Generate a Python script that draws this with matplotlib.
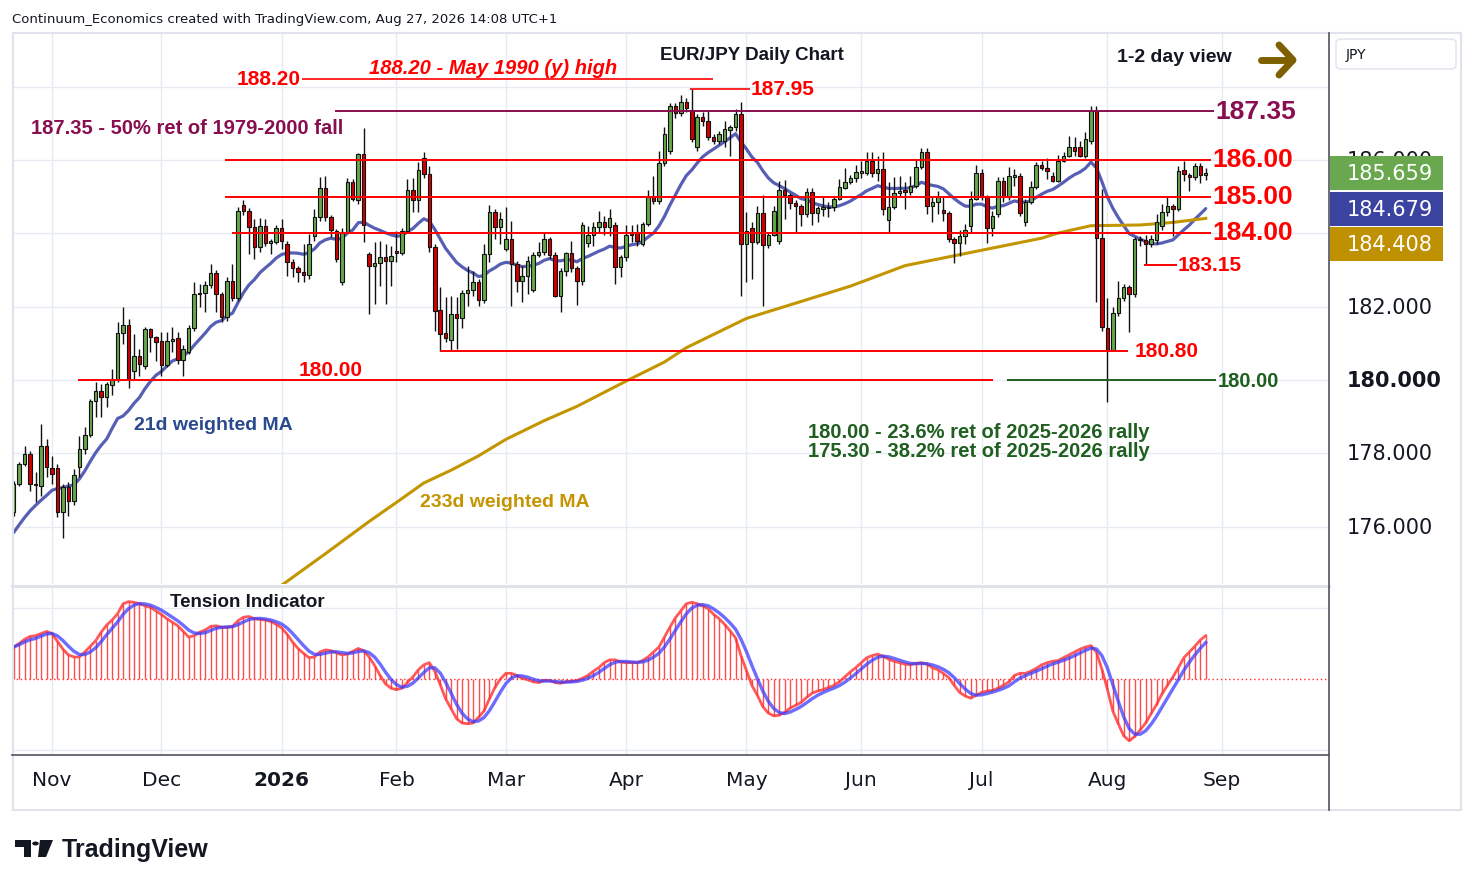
import matplotlib
matplotlib.use("Agg")
import matplotlib.pyplot as plt
from matplotlib.patches import Rectangle, FancyBboxPatch, Polygon, Circle
from matplotlib.lines import Line2D
import numpy as np
import pandas as pd

W, H = 1474, 887

# ---------------- data ----------------
first_day = "2025-10-23"
closed_days = ["2025-12-25", "2026-01-01"]

opens = [
    176.39, 177.16, 177.71, 177.98, 177.16, 177.12, 178.19,
    177.59, 177.60, 176.40, 177.08, 176.71, 177.62, 178.12, 178.50, 179.44, 179.71,
    179.53, 179.87, 180.03, 181.28, 181.50, 180.24, 180.66, 180.39, 181.39, 181.16,
    181.07, 180.42, 181.07, 181.14, 180.55, 180.76, 181.41, 182.35, 182.37, 182.59,
    182.92, 182.35, 181.72, 182.71, 182.23, 184.78, 184.60, 184.17, 183.62, 184.20,
    183.75, 183.77, 184.15, 183.71, 183.21, 183.05, 182.96, 182.87, 183.92, 184.44,
    185.23, 184.44, 184.07, 182.68, 184.05, 185.39, 184.91, 186.17, 183.44, 183.10,
    183.19, 183.35, 183.24, 183.53, 183.46, 184.07, 185.18, 184.91, 186.05, 185.62,
    183.62, 181.91, 181.27, 181.09, 181.80, 181.68, 182.37, 182.46, 182.67, 182.18,
    183.44, 184.59, 184.17, 183.57, 183.85, 183.17, 182.69, 182.85, 182.46, 183.41,
    183.49, 183.85, 183.41, 182.30, 182.97, 183.47, 183.05, 182.71, 183.74, 183.96,
    184.17, 184.30, 184.17, 184.23, 183.07, 183.35, 184.05, 184.05, 183.71, 184.26,
    185.00, 184.88, 185.92, 186.26, 187.47, 187.29, 187.58, 187.37, 186.35, 187.17,
    187.08, 186.62, 186.53, 186.53, 186.83, 186.89, 187.26, 183.71, 184.14, 183.77,
    184.57, 183.68, 183.96, 183.80, 185.18, 185.05, 184.83, 184.76, 184.53, 185.12,
    184.56, 184.67, 184.70, 184.71, 184.94, 185.24, 185.41, 185.50, 185.66, 185.66,
    185.98, 185.65, 185.77, 184.37, 184.71, 185.09, 185.18, 185.12, 185.30, 185.80,
    186.21, 184.74, 184.87, 184.65, 184.57, 183.85, 183.74, 183.94, 184.19, 184.95,
    185.64, 184.99, 184.14, 184.52, 185.42, 184.99, 185.55, 185.57, 184.30, 184.85,
    185.26, 185.87, 185.78, 185.56, 185.44, 185.98, 186.12, 186.35, 186.35, 186.12,
    186.53, 187.35, 183.87, 181.41, 180.83, 181.82, 182.23, 182.53, 182.35, 183.83,
    183.83, 183.71, 183.83, 184.19, 184.59, 184.74, 184.67, 185.73, 185.59, 185.53,
    185.83, 185.59,
]
highs = [
    177.25, 177.75, 178.19, 178.05, 177.48, 178.80, 178.39,
    177.93, 177.70, 177.15, 177.21, 177.57, 178.48, 178.71, 179.48, 179.94, 179.89,
    179.95, 180.30, 181.57, 181.99, 181.66, 181.25, 180.85, 181.45, 181.42, 181.20,
    181.30, 181.30, 181.44, 181.30, 180.95, 181.50, 182.67, 182.62, 182.71, 183.17,
    183.00, 182.40, 182.80, 183.17, 184.71, 184.91, 184.70, 184.39, 184.42, 184.39,
    183.85, 184.23, 184.39, 183.80, 183.30, 183.12, 183.71, 183.98, 184.67, 185.53,
    185.56, 184.50, 184.12, 184.15, 185.50, 185.48, 186.20, 186.87, 183.50, 183.76,
    183.80, 183.71, 183.66, 184.06, 184.15, 185.48, 185.50, 185.94, 186.21, 185.85,
    183.70, 182.53, 182.26, 182.28, 182.26, 182.45, 183.12, 182.98, 182.75, 183.71,
    184.77, 184.67, 184.58, 184.71, 184.35, 183.25, 183.12, 183.39, 183.48, 183.76,
    184.05, 183.89, 183.50, 183.05, 183.50, 183.80, 183.10, 184.30, 184.21, 184.30,
    184.62, 184.48, 184.67, 184.30, 183.40, 184.23, 184.23, 184.26, 184.30, 185.19,
    185.56, 186.26, 186.89, 187.56, 187.56, 187.78, 187.70, 187.95, 187.25, 187.32,
    187.35, 186.70, 186.80, 187.08, 186.95, 187.39, 187.58, 184.58, 184.30, 184.76,
    185.05, 184.05, 184.74, 185.44, 185.47, 185.10, 184.90, 184.80, 185.23, 185.23,
    184.75, 185.00, 184.85, 185.00, 185.48, 185.78, 185.60, 185.87, 185.98, 186.23,
    186.23, 186.12, 186.23, 185.39, 185.53, 185.57, 185.39, 185.57, 186.03, 186.32,
    186.32, 185.03, 185.17, 184.98, 184.60, 183.90, 184.10, 184.26, 185.17, 185.87,
    185.76, 185.05, 184.62, 185.53, 185.53, 185.80, 185.75, 185.65, 184.95, 185.44,
    185.94, 185.98, 186.06, 185.67, 186.14, 186.21, 186.67, 186.62, 186.53, 186.76,
    187.48, 187.47, 185.21, 182.23, 181.98, 182.71, 182.62, 182.60, 183.90, 183.94,
    183.95, 183.96, 184.53, 184.81, 185.01, 184.80, 185.83, 185.98, 185.65, 185.92,
    185.92, 185.78,
]
lows = [
    176.30, 177.12, 177.65, 176.98, 176.66, 176.84, 177.35,
    177.16, 176.25, 175.69, 176.30, 176.60, 177.35, 177.98, 178.45, 178.98, 178.98,
    179.25, 179.59, 179.95, 180.98, 179.77, 180.03, 180.12, 180.30, 180.76, 180.53,
    180.12, 180.35, 180.76, 180.44, 180.12, 180.70, 181.35, 181.98, 181.85, 182.50,
    181.85, 181.57, 181.60, 182.15, 182.15, 184.50, 183.44, 183.30, 183.48, 183.65,
    183.44, 183.70, 183.57, 182.83, 182.80, 182.67, 182.67, 182.76, 183.80, 184.35,
    184.35, 183.89, 183.21, 182.60, 184.00, 184.88, 184.80, 183.76, 181.80, 182.07,
    182.57, 182.07, 182.57, 183.21, 183.40, 184.00, 184.58, 184.58, 185.50, 183.48,
    181.35, 180.80, 181.03, 180.80, 180.85, 181.41, 182.03, 182.30, 182.01, 182.10,
    183.21, 183.85, 183.71, 183.53, 182.03, 182.39, 182.12, 182.35, 182.39, 183.35,
    183.40, 183.30, 182.26, 181.86, 182.85, 182.95, 182.05, 182.59, 183.62, 183.66,
    184.03, 183.96, 183.94, 182.62, 182.82, 183.26, 183.76, 183.66, 183.66, 184.20,
    184.80, 184.80, 185.85, 186.17, 187.14, 187.20, 187.30, 186.50, 186.26, 186.94,
    186.55, 186.44, 186.44, 186.35, 186.12, 186.80, 182.28, 182.67, 182.76, 183.70,
    182.03, 183.60, 183.94, 183.70, 184.39, 184.67, 184.05, 184.21, 184.45, 184.23,
    184.30, 184.48, 184.44, 184.60, 184.90, 185.20, 185.35, 185.39, 185.50, 185.60,
    185.53, 185.44, 184.50, 184.05, 184.67, 184.98, 184.67, 185.05, 185.25, 185.75,
    184.53, 184.30, 184.53, 184.35, 183.76, 183.19, 183.39, 183.71, 184.03, 184.90,
    184.90, 183.74, 183.94, 184.45, 184.85, 184.90, 185.30, 184.48, 184.20, 184.81,
    185.21, 185.74, 185.48, 185.39, 185.40, 185.94, 186.08, 186.12, 186.08, 186.05,
    186.45, 182.12, 181.35, 179.39, 180.78, 181.75, 182.15, 181.30, 182.26, 183.66,
    183.15, 183.62, 183.71, 184.10, 184.48, 183.94, 184.60, 185.44, 185.17, 185.45,
    185.38, 185.47,
]
closes = [
    177.16, 177.71, 177.98, 177.16, 177.13, 178.19, 177.62,
    177.44, 176.40, 177.08, 176.71, 177.41, 178.12, 178.50, 179.44, 179.71, 179.53,
    179.89, 180.03, 181.28, 181.50, 180.03, 180.66, 180.43, 181.39, 181.16, 181.03,
    180.42, 181.07, 181.12, 180.55, 180.85, 181.41, 182.35, 182.38, 182.59, 182.92,
    182.35, 181.72, 182.71, 182.23, 184.62, 184.60, 184.17, 183.62, 184.20, 183.75,
    183.79, 184.15, 183.80, 183.21, 183.05, 182.96, 182.87, 183.71, 184.44, 185.23,
    184.44, 184.09, 183.30, 184.05, 185.39, 184.95, 186.17, 184.23, 183.10, 183.19,
    183.35, 183.24, 183.37, 183.46, 184.07, 185.18, 184.91, 185.73, 185.62, 183.62,
    181.89, 181.26, 181.14, 181.80, 181.68, 182.37, 182.46, 182.67, 182.18, 183.44,
    184.59, 184.17, 184.39, 183.85, 183.17, 182.69, 182.85, 183.24, 183.41, 183.49,
    183.85, 183.41, 182.30, 182.97, 183.47, 183.05, 182.71, 184.23, 183.96, 184.17,
    184.30, 184.17, 184.41, 183.07, 183.35, 183.96, 183.96, 183.80, 184.26, 185.00,
    184.88, 185.92, 186.71, 187.47, 187.29, 187.58, 187.41, 186.58, 187.17, 187.08,
    186.62, 186.53, 186.71, 186.85, 186.89, 187.26, 183.71, 184.07, 183.77, 184.57,
    183.68, 183.96, 184.62, 185.18, 185.05, 184.83, 184.76, 184.54, 185.12, 184.56,
    184.69, 184.72, 184.73, 184.95, 185.26, 185.41, 185.50, 185.68, 185.68, 185.98,
    185.64, 185.77, 184.67, 184.71, 185.09, 185.16, 185.12, 185.30, 185.80, 186.21,
    184.74, 184.87, 184.99, 184.57, 183.85, 183.74, 183.94, 184.09, 184.95, 185.64,
    184.99, 184.14, 184.48, 185.42, 184.99, 185.57, 185.60, 184.56, 184.85, 185.26,
    185.87, 185.78, 185.71, 185.44, 185.98, 186.12, 186.35, 186.26, 186.12, 186.58,
    187.35, 183.87, 181.44, 180.83, 181.82, 182.23, 182.53, 182.35, 183.85, 183.85,
    183.71, 183.85, 184.32, 184.59, 184.74, 184.67, 185.71, 185.62, 185.53, 185.83,
    185.60, 185.66,
]

# 21d weighted MA over the first bars (its earlier inputs are off the chart)
wma21_early = [
    175.84, 176.05, 176.25, 176.43, 176.58, 176.72, 176.85,
    176.99, 177.04, 177.07, 177.10, 177.14, 177.30, 177.52, 177.78, 178.02,
    178.22, 178.39, 178.68, 178.95,
]

# 233d weighted MA, read at these bars
wma233_bar = [49, 57, 65, 70, 75, 80, 85, 90, 97, 103, 112, 119, 123, 134,
              153, 163, 175, 188, 191, 197, 206, 212, 218]
wma233_val = [174.40, 175.26, 176.14, 176.66, 177.19, 177.54, 177.93, 178.38,
              178.89, 179.28, 179.97, 180.49, 180.88, 181.68, 182.56, 183.12,
              183.48, 183.87, 184.01, 184.21, 184.23, 184.30, 184.41]

# tension indicator (red oscillator), one value per bar
tension = [
    0.45, 0.50, 0.56, 0.60, 0.61, 0.64, 0.67,
    0.64, 0.53, 0.42, 0.34, 0.31, 0.31, 0.38, 0.46, 0.54, 0.66,
    0.76, 0.83, 0.92, 1.06, 1.09, 1.08, 1.06, 1.03, 1.01, 0.96,
    0.91, 0.85, 0.80, 0.75, 0.67, 0.59, 0.61, 0.66, 0.69, 0.74,
    0.75, 0.73, 0.73, 0.74, 0.82, 0.87, 0.88, 0.85, 0.84, 0.83,
    0.81, 0.77, 0.72, 0.63, 0.52, 0.43, 0.36, 0.30, 0.31, 0.38,
    0.41, 0.40, 0.37, 0.34, 0.35, 0.39, 0.43, 0.40, 0.31, 0.19,
    0.05, -0.07, -0.13, -0.15, -0.13, -0.05, 0.03, 0.13, 0.20, 0.23,
    0.11, -0.08, -0.28, -0.42, -0.56, -0.62, -0.63, -0.62, -0.54, -0.45,
    -0.28, -0.12, 0.00, 0.08, 0.08, 0.05, 0.01, -0.01, -0.04, -0.05,
    -0.02, -0.02, -0.05, -0.06, -0.04, -0.03, -0.02, 0.01, 0.05, 0.11,
    0.16, 0.23, 0.27, 0.27, 0.24, 0.23, 0.23, 0.23, 0.26, 0.31,
    0.38, 0.45, 0.59, 0.73, 0.86, 0.96, 1.06, 1.08, 1.06, 1.03,
    0.99, 0.91, 0.85, 0.77, 0.68, 0.58, 0.33, 0.12, -0.09, -0.23,
    -0.39, -0.48, -0.52, -0.51, -0.47, -0.41, -0.37, -0.33, -0.26, -0.20,
    -0.17, -0.15, -0.12, -0.09, -0.04, 0.03, 0.10, 0.16, 0.23, 0.30,
    0.33, 0.35, 0.32, 0.28, 0.25, 0.23, 0.21, 0.20, 0.22, 0.23,
    0.21, 0.16, 0.13, 0.08, 0.02, -0.09, -0.19, -0.24, -0.27, -0.23,
    -0.19, -0.17, -0.16, -0.13, -0.09, -0.04, 0.05, 0.08, 0.08, 0.11,
    0.15, 0.20, 0.23, 0.25, 0.26, 0.30, 0.34, 0.38, 0.42, 0.45,
    0.47, 0.38, 0.14, -0.14, -0.45, -0.63, -0.80, -0.87, -0.81, -0.72,
    -0.62, -0.49, -0.36, -0.21, -0.09, 0.03, 0.16, 0.30, 0.38, 0.46,
    0.55, 0.61,
]

# horizontal levels
lvl_major = [186.00, 185.00, 184.00]
lvl_retr = 187.35
lvl_high_1990 = 188.20
lvl_high_apr = 187.95
lvl_low_feb = 180.80
lvl_low_aug = 183.15
lvl_round = 180.00

last_close = 185.659
last_wma21 = 184.679
last_wma233 = 184.408

# ---------------- layout helpers ----------------
fig = plt.figure(figsize=(W / 100, H / 100), dpi=100)
fig.patch.set_facecolor("white")


def fx(px):
    return px / W


def fy(py):
    return 1 - py / H


def px2x(px):            # pixel column -> bar position
    return (px - 52) / 5.468 + 7


def x2px(xv):
    return 52 + (xv - 7) * 5.468


def p2py(p):             # price -> pixel row
    return 381 - (p - 180) * 36.65


def ftext(px, py, s, **kw):
    kw.setdefault("va", "center")
    return fig.text(fx(px), fy(py), s, **kw)


LEFT, RIGHT, TOP, MID, TTOP, BOT = 12, 1329, 33, 585, 588, 756
ax = fig.add_axes([fx(LEFT), fy(MID), (RIGHT - LEFT) / W, (MID - TOP) / H])
axt = fig.add_axes([fx(LEFT), fy(BOT), (RIGHT - LEFT) / W, (BOT - TTOP) / H])
for a in (ax, axt):
    a.set_xlim(px2x(LEFT), px2x(RIGHT))
    a.axis("off")
ax.set_ylim(180 - (MID - 381) / 36.65, 180 + (381 - TOP) / 36.65)
axt.set_ylim(-(BOT - 680) / 71, (680 - TTOP) / 71)

grid_c = "#e6ebf1"
ann = "Liberation Sans"
axf = "DejaVu Sans"
RED = "#ff0000"
MAG = "#880e4f"
DGREEN = "#1f5f1f"
GOLD = "#c39500"
BLUE_MA = "#3a43a8"

# ---------------- dates / month ticks ----------------
n = len(closes)
x = np.arange(n)
days = pd.bdate_range(first_day, "2026-09-30")
days = days[~days.isin(pd.to_datetime(closed_days))]
month_pos, month_lab = [], []
prev = (days[0].year, days[0].month)
for i, d in enumerate(days):
    if (d.year, d.month) != prev:
        month_pos.append(i)
        month_lab.append(str(d.year) if d.month == 1 else d.strftime("%b"))
        prev = (d.year, d.month)

for mp in month_pos:
    ax.axvline(mp, color=grid_c, lw=1, zorder=0)
    axt.axvline(mp, color=grid_c, lw=1, zorder=0)
for v in range(176, 190, 2):
    ax.axhline(v, color=grid_c, lw=1, zorder=0)
for v in (-1, 1):
    axt.axhline(v, color=grid_c, lw=1, zorder=0)

# ---------------- moving averages ----------------
c = np.array(closes)
wts = np.arange(1, 22)
wma21 = list(wma21_early)
for i in range(len(wma21_early), n):
    wma21.append(np.dot(c[i - 20:i + 1], wts) / wts.sum())
ax.plot(x, wma21, color=BLUE_MA, lw=2.3, alpha=0.85, zorder=2, solid_capstyle="round")
ax.plot(wma233_bar, wma233_val, color=GOLD, lw=2.2, zorder=2)

# ---------------- candles ----------------
o, h, l = np.array(opens), np.array(highs), np.array(lows)
up = c >= o
ax.vlines(x, l, h, color="#111111", lw=1.0, zorder=3)
ax.bar(x, np.maximum(np.abs(c - o), 0.03), bottom=np.minimum(o, c), width=0.64,
       color=np.where(up, "#66a84b", "#d10000"), edgecolor="#111111",
       linewidth=0.8, zorder=4)

# ---------------- level lines and labels ----------------
for lv in lvl_major:
    x0 = 232 if lv == 184.00 else 225
    ax.hlines(lv, px2x(x0), px2x(1211), color=RED, lw=1.4, zorder=5)
    ftext(1212, p2py(lv) - 1, f"{lv:.2f}", color=RED, fontsize=19,
          fontweight="bold", family=ann, ha="left")

ax.hlines(lvl_retr, px2x(335), px2x(1214), color=MAG, lw=1.4, zorder=5)
ftext(1215, p2py(lvl_retr), f"{lvl_retr:.2f}", color=MAG, fontsize=19,
      fontweight="bold", family=ann, ha="left")
ftext(31, 128, "187.35 - 50% ret of 1979-2000 fall", color=MAG, fontsize=14.5,
      fontweight="bold", family=ann, ha="left")

ax.hlines(lvl_high_1990, px2x(302), px2x(713), color=RED, lw=1.2, zorder=5)
ftext(301, p2py(lvl_high_1990) - 1, f"{lvl_high_1990:.2f}", color=RED, fontsize=15,
      fontweight="bold", family=ann, ha="right")
ftext(493, 68, "188.20 - May 1990 (y) high", color=RED, fontsize=14.5,
      fontweight="bold", fontstyle="italic", family=ann, ha="center")

ax.hlines(lvl_high_apr, px2x(690), px2x(750), color=RED, lw=1.2, zorder=5)
ftext(751, p2py(lvl_high_apr), f"{lvl_high_apr:.2f}", color=RED, fontsize=15,
      fontweight="bold", family=ann, ha="left")

ax.hlines(lvl_low_aug, px2x(1144), px2x(1177), color=RED, lw=1.4, zorder=5)
ftext(1178, p2py(lvl_low_aug), f"{lvl_low_aug:.2f}", color=RED, fontsize=15,
      fontweight="bold", family=ann, ha="left")

ax.hlines(lvl_low_feb, px2x(440), px2x(1128), color=RED, lw=1.4, zorder=5)
ftext(1135, p2py(lvl_low_feb), f"{lvl_low_feb:.2f}", color=RED, fontsize=15,
      fontweight="bold", family=ann, ha="left")

ax.hlines(lvl_round, px2x(78), px2x(993), color=RED, lw=1.4, zorder=5)
ftext(331, p2py(lvl_round) - 10, f"{lvl_round:.2f}", color=RED, fontsize=15,
      fontweight="bold", family=ann, ha="center")
ax.hlines(lvl_round, px2x(1007), px2x(1216), color=DGREEN, lw=1.4, zorder=5)
ftext(1218, p2py(lvl_round) + 1, f"{lvl_round:.2f}", color=DGREEN, fontsize=14.5,
      fontweight="bold", family=ann, ha="left")

ftext(808, 432, "180.00 - 23.6% ret of 2025-2026 rally", color=DGREEN,
      fontsize=14.5, fontweight="bold", family=ann, ha="left")
ftext(808, 452, "175.30 - 38.2% ret of 2025-2026 rally", color=DGREEN,
      fontsize=14.5, fontweight="bold", family=ann, ha="left")
ftext(134, 425, "21d weighted MA", color="#2b4a8e", fontsize=14,
      fontweight="bold", family=ann, ha="left")
ftext(420, 503, "233d weighted MA", color=GOLD, fontsize=14,
      fontweight="bold", family=ann, ha="left")

ftext(752, 56, "EUR/JPY Daily Chart", color="#131722", fontsize=13.5,
      fontweight="bold", family=ann, ha="center")
ftext(1174, 57, "1-2 day view", color="#131722", fontsize=14,
      fontweight="bold", family=ann, ha="center")
arrow_c = "#7f6000"
for xs, ys in (([1261, 1292], [61, 61]), ([1279, 1293, 1279], [46, 61, 76])):
    fig.add_artist(Line2D([fx(v) for v in xs], [fy(v) for v in ys], color=arrow_c,
                          lw=5, solid_capstyle="round", solid_joinstyle="round"))

# ---------------- tension indicator ----------------
tn = np.array(tension)
blue_sig = []
for i in range(n):
    seg = tn[max(0, i - 4):i + 1]
    ww = np.arange(1, len(seg) + 1)
    blue_sig.append(np.dot(seg, ww) / ww.sum())
axt.hlines(0, px2x(LEFT), px2x(RIGHT - 2), colors="#ff2a2a", linestyles=(0, (1, 2)),
           lw=1.0, zorder=2)
axt.vlines(x, 0, tn, color="#ff4d4d", lw=1.0, zorder=3)
axt.plot(x, tn, color="#ff3030", lw=2.0, alpha=0.8, zorder=4)
axt.plot(x, blue_sig, color="#3c3cff", lw=2.4, alpha=0.75, zorder=5)
ftext(170, 603, "Tension Indicator", color="#131722", fontsize=13.5,
      fontweight="bold", family=ann, ha="left")

# ---------------- frame ----------------
fig.add_artist(Rectangle((fx(12.5), fy(811)), (1460.5 - 12.5) / W, (811 - 33.5) / H,
                         transform=fig.transFigure, fill=False, ec="#e0e3eb", lw=1.5))
fig.add_artist(Line2D([fx(LEFT), fx(RIGHT)], [fy(586.5)] * 2, color="#e0e3eb", lw=2.2))
fig.add_artist(Line2D([fx(LEFT), fx(RIGHT)], [fy(BOT)] * 2, color="#50535e", lw=1.2))
fig.add_artist(Line2D([fx(RIGHT)] * 2, [fy(33.5), fy(811)], color="#50535e", lw=1.2))

# x labels
for mp, lab in zip(month_pos, month_lab):
    ftext(x2px(mp), 781, lab, color="#131722", fontsize=14.5, family=axf, ha="center",
          fontweight="bold" if lab.isdigit() else "normal")

# right price scale (the 186 label sits mostly behind the last-price box)
for v in (176, 178, 180, 182, 186):
    ftext(1347, p2py(v), f"{v:.3f}", color="#131722", fontsize=15, family=axf,
          ha="left", fontweight="bold" if v == 180 else "normal", zorder=3)

boxes = [(last_close, "#6aa84f", p2py(last_close)),
         (last_wma21, "#3b43a0", p2py(last_wma21)),
         (last_wma233, "#bf9000", p2py(last_wma21) + 35.5)]
for val, col, cy in boxes:
    fig.add_artist(Rectangle((fx(1330), fy(cy + 17)), 113 / W, 34 / H,
                             transform=fig.transFigure, fc=col, ec="none", zorder=4))
    ftext(1347, cy, f"{val:.3f}", color="white", fontsize=15, family=axf, ha="left",
          zorder=5)

fig.add_artist(FancyBboxPatch((fx(1336), fy(70)), 120 / W, 30 / H,
                              boxstyle="round,pad=0,rounding_size=0.004",
                              transform=fig.transFigure, fc="white", ec="#e0e3eb", lw=1))
ftext(1346, 55, "JPY", color="#131722", fontsize=10, family=axf, ha="left")

# header and logo
ftext(12, 19, "Continuum_Economics created with TradingView.com, Aug 27, 2026 14:08 UTC+1",
      color="#131722", fontsize=9.5, family=axf, ha="left")
ftext(62, 850, "TradingView", color="#131722", fontsize=18, fontweight="bold",
      family=ann, ha="left")
logo = [[(15, 841), (31, 841), (31, 858), (24, 858), (24, 848), (15, 848)],
        [(40, 841), (53, 841), (46, 858), (38, 858)]]
for pts in logo:
    fig.add_artist(Polygon([(fx(a), fy(b)) for a, b in pts], closed=True,
                           transform=fig.transFigure, fc="#131722", ec="none"))
fig.add_artist(Circle((fx(35.5), fy(844.5)), 3.3 / W, transform=fig.transFigure,
                      fc="#131722", ec="none"))

fig.savefig("out.png", dpi=100)
